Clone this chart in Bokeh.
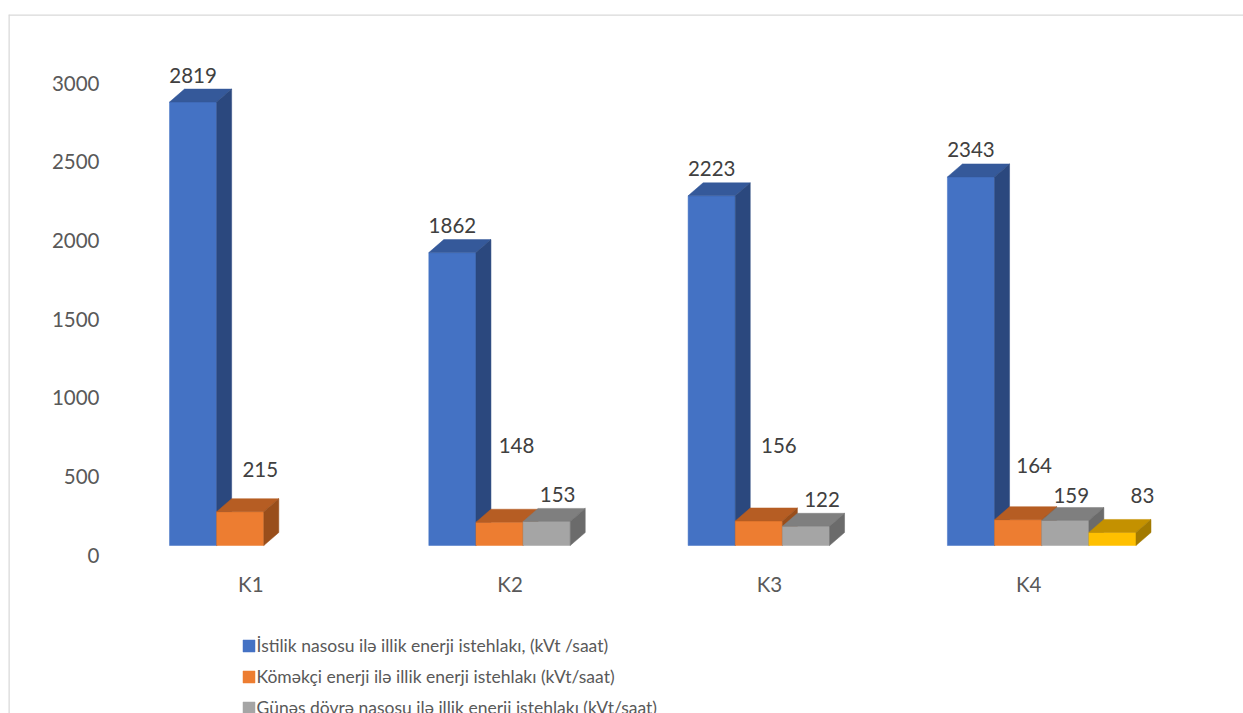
from bokeh.plotting import figure
from bokeh.models import Range1d, Legend, LegendItem, Span
from bokeh.core.properties import value
from bokeh.embed import file_html
from bokeh.resources import INLINE

# ---------------- data ----------------
categories = ["K1", "K2", "K3", "K4"]
series_names = [
    "İstilik nasosu ilə illik enerji istehlakı, (kVt /saat)",
    "Köməkçi enerji ilə illik enerji istehlakı (kVt/saat)",
    "Günəş dövrə nasosu ilə illik enerji istehlakı (kVt/saat)",
]
heat_pump = [2819, 1862, 2223, 2343]
auxiliary = [215, 148, 156, 164]
solar_pump = [None, 153, 122, 159]
fourth_series = [None, None, None, 83]
y_ticks = [0, 500, 1000, 1500, 2000, 2500, 3000]

# ---------------- layout / style ----------------
W, H = 1243, 713
LEFT, TOP = 8, 14
X_PX = 259.3      # pixels per category slot
Y_PX = 0.1573     # pixels per value unit
X0_PX = 263.3     # canvas x of first category centre
Y0_PX = 545.0     # canvas y of bar baseline
DEPTH_X, DEPTH_Y = 15, 13   # 3D depth in px
TXT_SHIFT = 8     # compensation for text baseline rendering
FONT_NAME = "Lato"
FONT = value(FONT_NAME)

front_cols = ["#4472C4", "#ED7D31", "#A5A5A5", "#FFC000"]
top_cols = ["#35599A", "#B65D23", "#7F7F7F", "#C49100"]
side_cols = ["#2B487E", "#994E1B", "#6B6B6B", "#A37A00"]

# label nudges in px (dx right, up)
label_dx = [[0, 0, 0, 0], [20, 17, 20, 16], [0, 11, 16, 6], [0, 0, 0, 30]]
label_up = [[0, 0, 0, 0], [15, 50, 48, 27], [0, 0, 0, -2], [0, 0, 0, 10]]

x_range = Range1d((LEFT - X0_PX) / X_PX, (W - X0_PX) / X_PX)
y_range = Range1d(-(H - Y0_PX) / Y_PX, (Y0_PX - TOP) / Y_PX)

p = figure(width=W, height=H, x_range=x_range, y_range=y_range,
           output_backend="svg", toolbar_location=None,
           x_axis_location=None, y_axis_location=None,
           min_border_left=LEFT, min_border_right=0, min_border_bottom=0,
           min_border_top=TOP)
p.grid.grid_line_color = None
p.outline_line_color = None
p.background_fill_color = "white"

# chart-area border: only the top and left edges are visible in the reference
p.add_layout(Span(location=y_range.end, dimension="width",
                  line_color="#D9D9D9", line_width=2.5))
p.add_layout(Span(location=x_range.start, dimension="height",
                  line_color="#D9D9D9", line_width=2.5))

series = [heat_pump, auxiliary, solar_pump, fourth_series]
n = len(series)
gap = 1.5
bw = 1.0 / (n + gap)
ddx = DEPTH_X / X_PX
ddy = DEPTH_Y / Y_PX

front_renderers = []
for s, vals in enumerate(series):
    L, R, T = [], [], []
    tx, ty, sxs, sys_ = [], [], [], []
    lx, ly, lt = [], [], []
    for g, v in enumerate(vals):
        if v is None:
            continue
        x0 = g - n * bw / 2 + s * bw
        x1 = x0 + bw
        L.append(x0); R.append(x1); T.append(v)
        tx.append([x0, x0 + ddx, x1 + ddx, x1])
        ty.append([v, v + ddy, v + ddy, v])
        sxs.append([x1, x1, x1 + ddx, x1 + ddx])
        sys_.append([0, v, v + ddy, ddy])
        lx.append((x0 + x1) / 2 + label_dx[s][g] / X_PX)
        ly.append(v + (19 + TXT_SHIFT + label_up[s][g]) / Y_PX)
        lt.append(str(v))
    r = p.quad(left=L, right=R, bottom=0, top=T, fill_color=front_cols[s],
               line_color=front_cols[s], line_width=0.5)
    front_renderers.append(r)
    p.patches(xs=tx, ys=ty, fill_color=top_cols[s], line_color=top_cols[s], line_width=0.5)
    p.patches(xs=sxs, ys=sys_, fill_color=side_cols[s], line_color=side_cols[s], line_width=0.5)
    p.text(x=lx, y=ly, text=lt, text_font=FONT, text_font_size="20.5px",
           text_color="#404040", text_align="center", text_baseline="alphabetic")

# y tick labels
p.text(x=[(99 - X0_PX) / X_PX] * len(y_ticks),
       y=[t - (17.6 - TXT_SHIFT) / Y_PX for t in y_ticks],
       text=[str(t) for t in y_ticks], text_font=FONT, text_font_size="20.5px",
       text_color="#595959", text_align="right", text_baseline="alphabetic")

# category labels
p.text(x=[g - 13 / X_PX for g in range(len(categories))],
       y=[-(46.7 - TXT_SHIFT) / Y_PX] * len(categories), text=categories, text_font=FONT,
       text_font_size="20.5px", text_color="#595959", text_align="center",
       text_baseline="alphabetic")

legend = Legend(items=[LegendItem(label=series_names[i], renderers=[front_renderers[i]])
                       for i in range(len(series_names))],
                location=(232.5, -5), orientation="vertical",
                background_fill_alpha=0, border_line_color=None,
                padding=0, margin=0, spacing=10,
                glyph_width=15, glyph_height=15, label_height=21,
                label_standoff=1, label_text_font=FONT_NAME,
                label_text_font_size="17.5px", label_text_color="#595959")
p.add_layout(legend)

open("out.html", "w").write(file_html(p, INLINE))
